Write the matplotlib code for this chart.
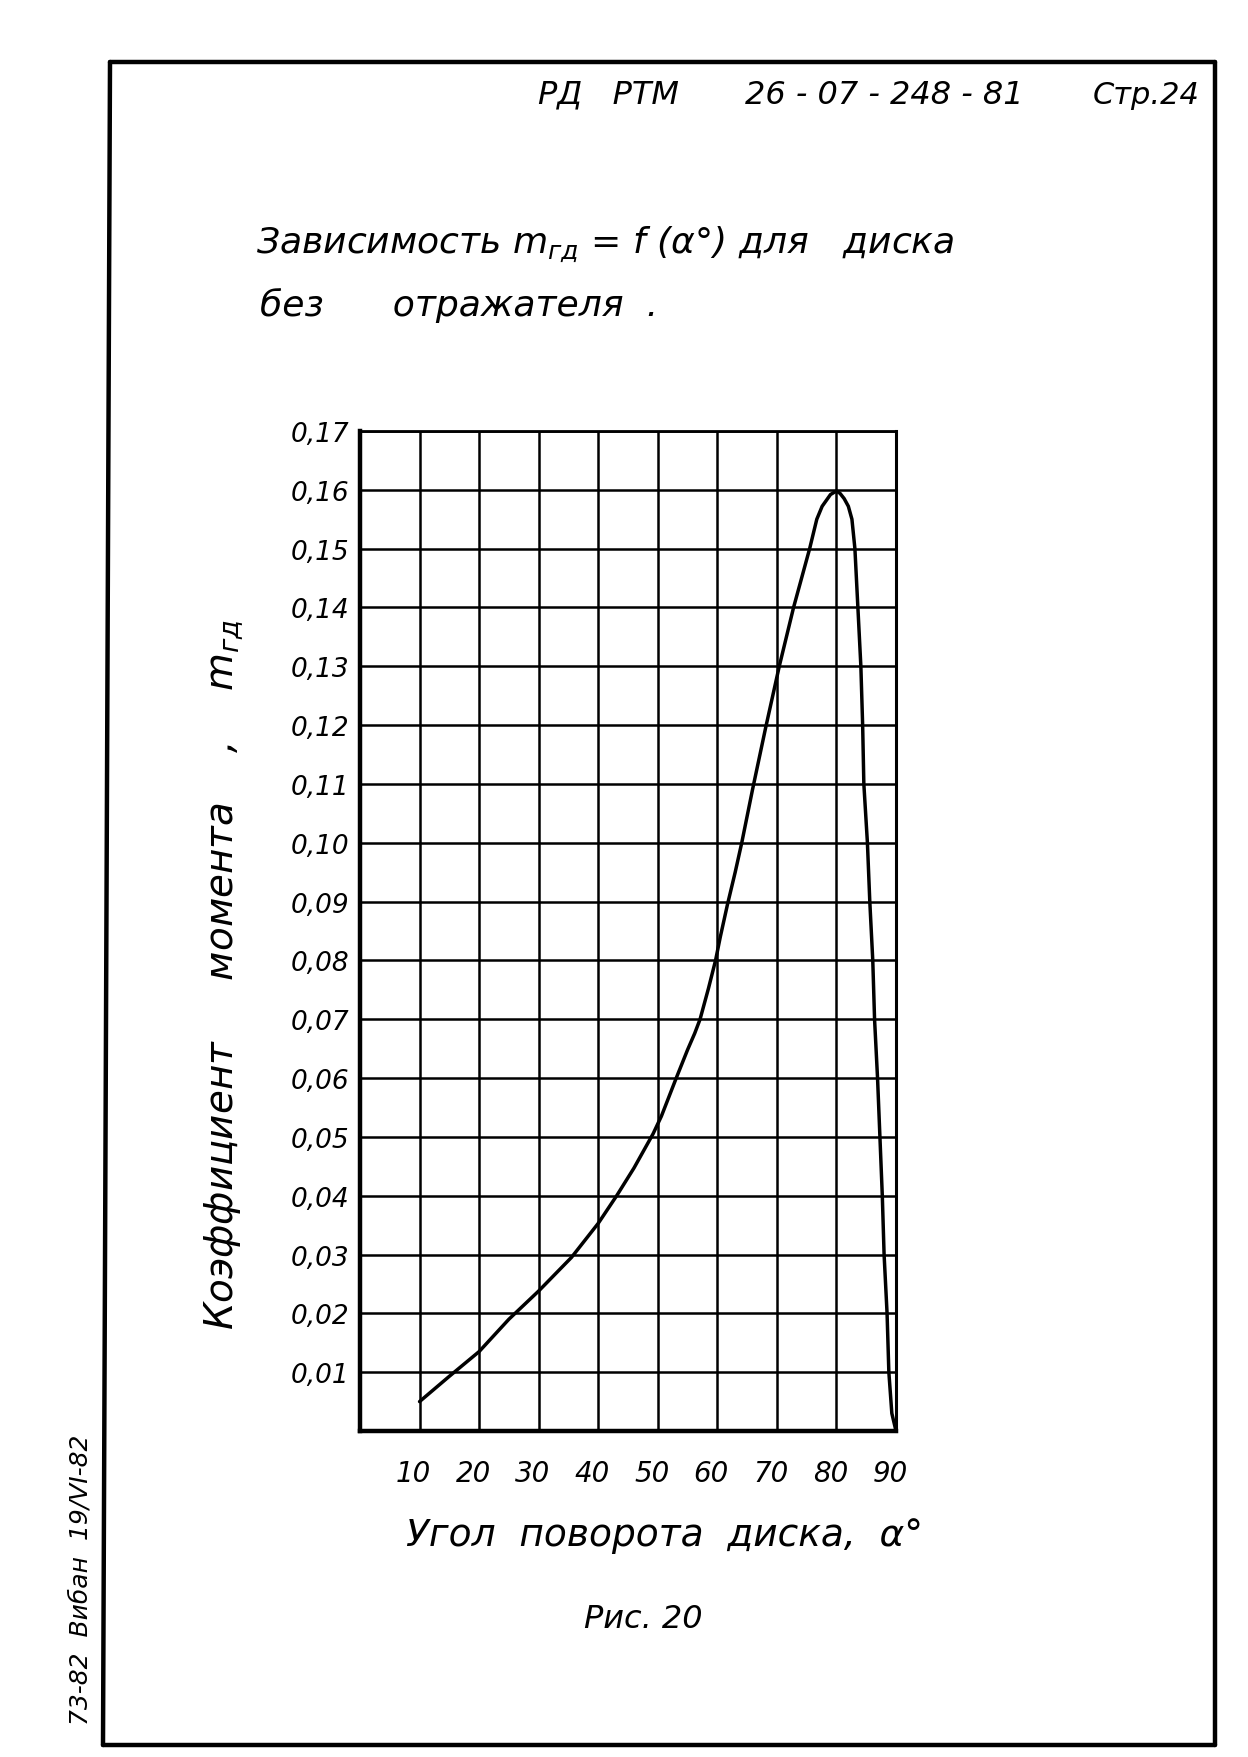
import matplotlib.pyplot as plt
from matplotlib.lines import Line2D
from matplotlib.transforms import ScaledTranslation

W, H = 1248, 1758

# rotation angle (deg) vs moment coefficient
angle_up = [10, 15, 20, 25, 30, 35.5, 40, 43.1, 46, 49.2, 50.6, 53.1, 55,
            56.2, 57.1, 58.5, 59.7, 60.5, 61.7, 63, 64.1, 65.9, 68.1, 70.4,
            72.8, 75.5, 76.7, 77.6, 79, 80]
m_up = [0.005, 0.0093, 0.0135, 0.019, 0.0238, 0.0295, 0.0353, 0.040, 0.0447,
        0.0505, 0.0535, 0.060, 0.0648, 0.0676, 0.070, 0.0752, 0.080, 0.084,
        0.0895, 0.095, 0.100, 0.109, 0.1195, 0.130, 0.140, 0.150, 0.155,
        0.1572, 0.1592, 0.1598]
angle_down = [80.6, 81.3, 82, 82.6, 83.1, 83.6, 84.1, 84.4, 84.6, 85.2, 85.6,
              86.1, 86.4, 86.9, 87.3, 87.7, 88.0, 88.5, 88.8, 89.3, 90]
m_down = [0.1594, 0.1585, 0.1572, 0.155, 0.150, 0.140, 0.130, 0.120, 0.110,
          0.100, 0.090, 0.080, 0.070, 0.060, 0.050, 0.040, 0.030, 0.020,
          0.010, 0.003, 0.0]

x_ticks = [10, 20, 30, 40, 50, 60, 70, 80, 90]
y_ticks = [0.01, 0.02, 0.03, 0.04, 0.05, 0.06, 0.07, 0.08, 0.09, 0.10,
           0.11, 0.12, 0.13, 0.14, 0.15, 0.16, 0.17]
y_labels = ["0,01", "0,02", "0,03", "0,04", "0,05", "0,06", "0,07", "0,08",
            "0,09", "0,10", "0,11", "0,12", "0,13", "0,14", "0,15", "0,16",
            "0,17"]

HAND = {"family": "DejaVu Sans", "style": "italic", "color": "black"}


def fx(x):
    return x / W


def fy(y):
    return 1 - y / H


def page_text(fig, x, y, s, size, **kw):
    fig.text(fx(x), fy(y), s, fontsize=size, **HAND, **kw)


def main():
    fig = plt.figure(figsize=(W / 100, H / 100), dpi=100)
    fig.patch.set_facecolor("white")

    # page frame
    frame = [((110, 63), (1215, 63)), ((110, 63), (103, 1746)),
             ((103, 1746), (1215, 1746)), ((1215, 63), (1215, 1746))]
    for (x0, y0), (x1, y1) in frame:
        fig.add_artist(Line2D([fx(x0), fx(x1)], [fy(y0), fy(y1)],
                              color="black", lw=3.2, solid_capstyle="round"))

    left, right, top, bottom = 360, 896, 432, 1432
    ax = fig.add_axes([fx(left), fy(bottom), (right - left) / W, (bottom - top) / H])
    ax.set_xlim(0, 90)
    ax.set_ylim(0, 0.17)

    ax.plot(angle_up + angle_down, m_up + m_down, color="black", lw=2.5,
            solid_joinstyle="round", solid_capstyle="round")

    ax.set_xticks(x_ticks)
    ax.set_xticklabels([str(v) for v in x_ticks], fontsize=20, **HAND)
    ax.set_yticks(y_ticks)
    ax.set_yticklabels(y_labels, fontsize=19, **HAND)
    ax.tick_params(length=0)
    ax.tick_params(axis="x", pad=20)
    ax.tick_params(axis="y", pad=8)
    shift = ScaledTranslation(-6 / 100, 0, fig.dpi_scale_trans)
    for lab in ax.get_xticklabels():
        lab.set_transform(lab.get_transform() + shift)

    ax.grid(True, color="black", lw=1.8)
    ax.set_axisbelow(True)
    for side, lw in (("left", 3.2), ("bottom", 3.2), ("top", 2.0), ("right", 2.2)):
        ax.spines[side].set_linewidth(lw)
        ax.spines[side].set_color("black")

    # header
    page_text(fig, 538, 95, "РД   РТМ", 23, va="center", ha="left")
    page_text(fig, 745, 95, "26 - 07 - 248 - 81", 23, va="center", ha="left")
    page_text(fig, 1093, 95, "Стр.24", 22, va="center", ha="left")

    # title
    page_text(fig, 256, 244, "Зависимость $m_{гд}$ = f (α°) для   диска", 26,
              va="center", ha="left")
    page_text(fig, 260, 305, "без      отражателя  .", 26, va="center", ha="left")

    # axis captions
    page_text(fig, 224, 975, "Коэффициент     момента    ,    $m_{гд}$", 28,
              rotation=90, va="center", ha="center")
    page_text(fig, 664, 1536, "Угол  поворота  диска,  α°", 27,
              va="center", ha="center")
    page_text(fig, 643, 1620, "Рис. 20", 23, va="center", ha="center")

    # margin note
    page_text(fig, 81, 1580, "73-82  Вибан  19/VI-82", 18,
              rotation=90, va="center", ha="center")

    fig.savefig("out.png", dpi=100, facecolor="white")
    plt.close(fig)


if __name__ == "__main__":
    main()
